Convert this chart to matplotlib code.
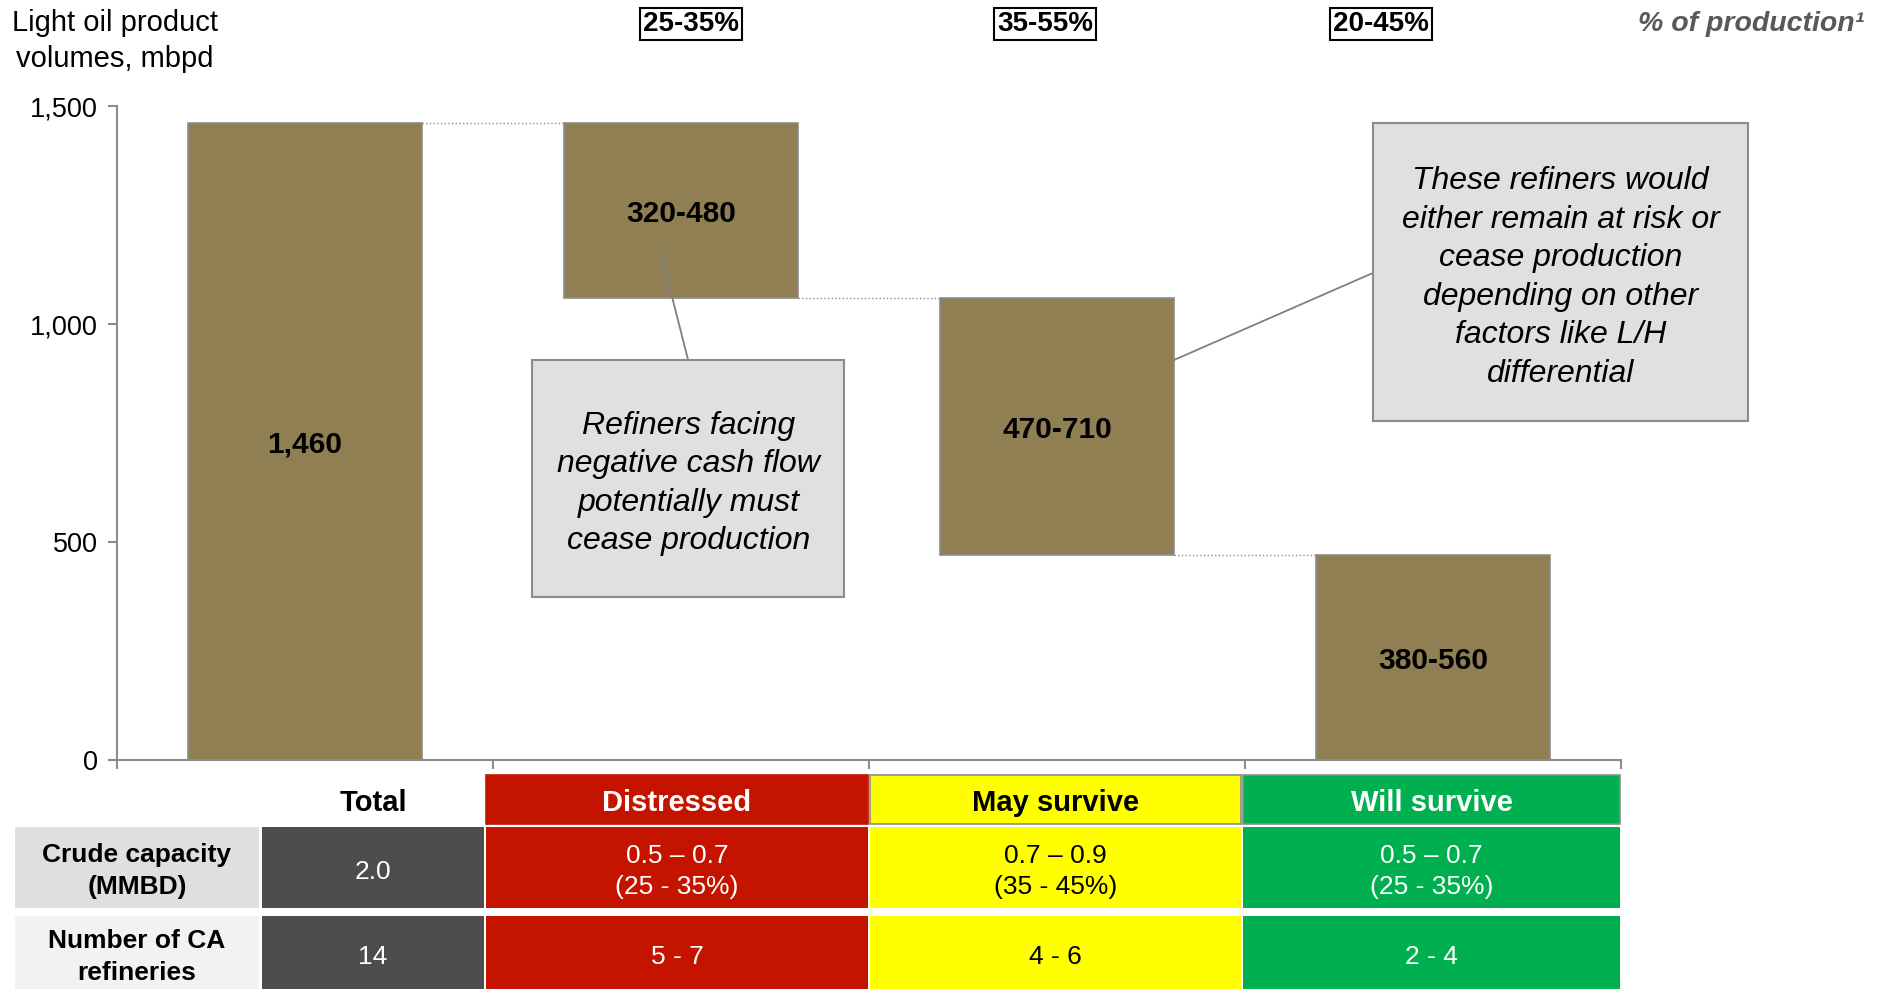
import matplotlib
matplotlib.use('Agg')
import matplotlib.pyplot as plt
from matplotlib.patches import Rectangle

plt.rcParams['font.family'] = ['Liberation Sans', 'DejaVu Sans']

# data
categories = ['Total', 'Distressed', 'May survive', 'Will survive']
volumes = [1460, 400, 590, 470]          # mid points of the ranges
bar_labels = ['1,460', '320-480', '470-710', '380-560']
share_labels = ['25-35%', '35-55%', '20-45%']
row_labels = ['Crude capacity\n(MMBD)', 'Number of CA\nrefineries']
capacity = ['2.0', '0.5 – 0.7\n(25 - 35%)', '0.7 – 0.9\n(35 - 45%)', '0.5 – 0.7\n(25 - 35%)']
refineries = ['14', '5 - 7', '4 - 6', '2 - 4']

BAR = '#8F7F52'
GREY = '#8C8C8C'
head_fc = ['white', '#C41400', '#FFFF00', '#00B050']
head_tc = ['black', 'white', 'black', 'white']
cell_fc = ['#4D4D4D', '#C41400', '#FFFF00', '#00B050']
cell_tc = ['white', 'white', 'black', 'white']

W, H = 1888, 989
fig = plt.figure(figsize=(W / 100, H / 100), dpi=100)
ax = fig.add_axes([117 / W, 1 - 760 / H, (1621 - 117) / W, (760 - 106) / H])

# waterfall bottoms
bottoms = [0]
level = volumes[0]
for v in volumes[1:]:
    level -= v
    bottoms.append(level)
tops = [b + v for b, v in zip(bottoms, volumes)]

x = list(range(len(categories)))
bw = 0.62
ax.bar(x, volumes, bottom=bottoms, width=bw, color=BAR, edgecolor=GREY, linewidth=1.2, zorder=2)
for i in x:
    ax.text(i, bottoms[i] + volumes[i] / 2 - 7, bar_labels[i], ha='center', va='center',
            fontsize=21.5, fontweight='bold', zorder=3)
for i in range(len(x) - 1):
    ax.plot([i + bw / 2, i + 1 - bw / 2], [tops[i + 1]] * 2, ls=':', color=GREY, lw=1, zorder=1)

ax.set_xlim(-0.5, 3.5)
ax.set_ylim(0, 1500)
ax.set_yticks([0, 500, 1000, 1500])
ax.set_yticklabels(['0', '500', '1,000', '1,500'])
ax.set_xticks([-0.5, 0.5, 1.5, 2.5, 3.5])
ax.set_xticklabels([])
for s in ['top', 'right']:
    ax.spines[s].set_visible(False)
for s in ['left', 'bottom']:
    ax.spines[s].set_color(GREY)
    ax.spines[s].set_linewidth(1.5)
ax.tick_params(direction='out', length=6.5, width=1.5, color=GREY, labelsize=19.5, pad=7)

# callouts
ax.add_patch(Rectangle((0.604, 374), 0.829, 543, fc='#E0E0E0', ec=GREY, lw=1.5,
                       clip_on=False, zorder=4))
ax.text(1.02, 634, 'Refiners facing\nnegative cash flow\npotentially must\ncease production',
        ha='center', va='center', fontsize=23, style='italic', linespacing=1.37, zorder=5)
ax.plot([1.019, 0.944], [917, 1172], color='#808080', lw=1.3, zorder=3)

ax.add_patch(Rectangle((2.84, 778), 0.998, 683, fc='#E0E0E0', ec=GREY, lw=1.5,
                       clip_on=False, zorder=4))
ax.text(3.339, 1107, 'These refiners would\neither remain at risk or\ncease production\n'
        'depending on other\nfactors like L/H\ndifferential',
        ha='center', va='center', fontsize=23, style='italic', linespacing=1.37, zorder=5)
ax.plot([2.84, 2.31], [1117, 917], color='#808080', lw=1.3, zorder=3, clip_on=False)

# titles
fig.text(115 / W, 1 - 41 / H, 'Light oil product\nvolumes, mbpd', ha='center', va='center',
         fontsize=21, linespacing=1.33)
for xp, s in zip([691, 1045, 1381], share_labels):
    fig.text(xp / W, 1 - 24 / H, s, ha='center', va='center', fontsize=20, fontweight='bold',
             bbox=dict(boxstyle='square,pad=0.1', fc='white', ec='black', lw=1.5))
fig.text(1864 / W, 1 - 24 / H, '% of production¹', ha='right', va='center', fontsize=20.5,
         fontweight='bold', style='italic', color='#595959')

# table below (pixel coordinates, y grows downward)
tax = fig.add_axes([0, 0, 1, (H - 773) / H])
tax.set_xlim(0, W)
tax.set_ylim(H, 773)
tax.axis('off')
cols = [(262, 484), (486, 868), (870, 1241), (1243, 1620)]
for j, (x0, x1) in enumerate(cols):
    tax.add_patch(Rectangle((x0, 775), x1 - x0, 49, fc=head_fc[j],
                            ec=GREY if j >= 2 else head_fc[j], lw=1.2, clip_on=False))
    tax.text((x0 + x1) / 2, 803, categories[j], ha='center', va='center', fontsize=21,
             fontweight='bold', color=head_tc[j])
    tax.add_patch(Rectangle((x0, 827), x1 - x0, 81, fc=cell_fc[j], lw=0))
    tax.text((x0 + x1) / 2, 871.5, capacity[j], ha='center', va='center', fontsize=19,
             color=cell_tc[j], linespacing=1.42)
    tax.add_patch(Rectangle((x0, 916), x1 - x0, 73, fc=cell_fc[j], lw=0))
    tax.text((x0 + x1) / 2, 957, refineries[j], ha='center', va='center', fontsize=19,
             color=cell_tc[j])

for (y0, h, fc), lab, dy in zip([(827, 81, '#DFDFDF'), (916, 73, '#F2F2F2')], row_labels, [44, 41]):
    tax.add_patch(Rectangle((15, y0), 244, h, fc=fc, lw=0))
    tax.text(137, y0 + dy, lab, ha='center', va='center', fontsize=19,
             fontweight='bold', linespacing=1.42)

fig.savefig('out.png', dpi=100)
